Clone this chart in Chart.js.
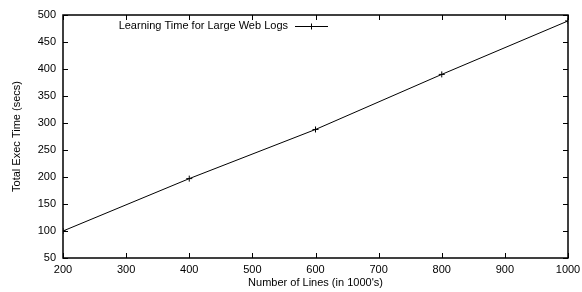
<!DOCTYPE html>
<html>
<head>
<meta charset="utf-8">
<script src="https://cdn.jsdelivr.net/npm/chart.js@4/dist/chart.umd.min.js"></script>
<style>
  html, body { margin: 0; padding: 0; background: #fff; }
  #wrap { width: 582px; height: 292px; }
</style>
</head>
<body>
<div id="wrap"><canvas id="c" width="582" height="292"></canvas></div>
<script>
// values
const lines = [200, 400, 600, 800, 1000];          // number of lines (in 1000's)
const execTime = [100, 197, 288, 390, 489];        // total exec time (secs)
const seriesLabel = 'Learning Time for Large Web Logs';

const FONT = 'Liberation Sans, Arial, Helvetica, sans-serif';

// gnuplot-ish frame: full box with inward ticks on all four sides
const framePlugin = {
    id: 'frame',
    afterDraw(chart) {
        const {ctx, chartArea: a, scales} = chart;
        ctx.save();
        ctx.strokeStyle = '#000';
        ctx.lineWidth = 1;
        ctx.beginPath();
        scales.x.ticks.forEach(t => {
            const px = Math.round(scales.x.getPixelForValue(t.value)) + 0.5;
            ctx.moveTo(px, a.bottom); ctx.lineTo(px, a.bottom - 5);
            ctx.moveTo(px, a.top); ctx.lineTo(px, a.top + 5);
        });
        scales.y.ticks.forEach(t => {
            const py = Math.round(scales.y.getPixelForValue(t.value)) + 0.5;
            ctx.moveTo(a.left, py); ctx.lineTo(a.left + 5, py);
            ctx.moveTo(a.right, py); ctx.lineTo(a.right - 5, py);
        });
        ctx.stroke();
        ctx.lineWidth = 1.5;
        ctx.strokeRect(a.left, a.top, a.right - a.left, a.bottom - a.top);

        // key in top-left, text right-aligned before the sample
        const ds = chart.data.datasets[0];
        const ky = a.top + 11;
        const kx = 288;
        ctx.font = '11px ' + FONT;
        ctx.fillStyle = '#000';
        ctx.textAlign = 'right';
        ctx.textBaseline = 'middle';
        ctx.fillText(ds.label, kx, ky);
        ctx.lineWidth = 1;
        ctx.beginPath();
        ctx.moveTo(kx + 7, ky + 0.5); ctx.lineTo(kx + 40, ky + 0.5);
        const cx = kx + 23.5;
        ctx.moveTo(cx - 3, ky + 0.5); ctx.lineTo(cx + 3, ky + 0.5);
        ctx.moveTo(cx, ky - 2.5); ctx.lineTo(cx, ky + 3.5);
        ctx.stroke();
        ctx.restore();
    }
};

new Chart(document.getElementById('c').getContext('2d'), {
    type: 'line',
    data: {
        labels: lines,
        datasets: [{
            label: seriesLabel,
            data: lines.map((x, i) => ({x, y: execTime[i]})),
            borderColor: '#000',
            backgroundColor: '#000',
            borderWidth: 1,
            tension: 0,
            pointStyle: 'crossRot',
            pointRotation: 45,
            pointRadius: 3,
            pointBorderWidth: 1,
            pointBorderColor: '#000',
            fill: false
        }]
    },
    options: {
        responsive: false,
        animation: false,
        layout: { padding: { left: 0, right: 14, top: 15, bottom: 0 } },
        plugins: {
            legend: { display: false },
            tooltip: { enabled: false }
        },
        scales: {
            x: {
                type: 'linear',
                min: 200, max: 1000,
                grid: { display: false, drawTicks: false },
                border: { display: false },
                ticks: { stepSize: 100, color: '#000', padding: 5, maxRotation: 0,
                         callback: v => String(v),
                         font: { family: FONT, size: 11 } },
                title: { display: true, text: "Number of Lines (in 1000's)", color: '#000',
                         padding: { top: 0, bottom: 2 }, font: { family: FONT, size: 11 } },
                afterFit: s => { s.height = 34; s.paddingLeft = 0; s.paddingRight = 0; }
            },
            y: {
                type: 'linear',
                min: 50, max: 500,
                grid: { display: false, drawTicks: false },
                border: { display: false },
                ticks: { stepSize: 50, color: '#000', padding: 7,
                         font: { family: FONT, size: 11 } },
                title: { display: true, text: 'Total Exec Time (secs)', color: '#000',
                         padding: { top: 10, bottom: 0 }, font: { family: FONT, size: 11 } },
                afterFit: s => { s.width = 63; s.paddingTop = 0; s.paddingBottom = 0; }
            }
        }
    },
    plugins: [framePlugin]
});
</script>
</body>
</html>
